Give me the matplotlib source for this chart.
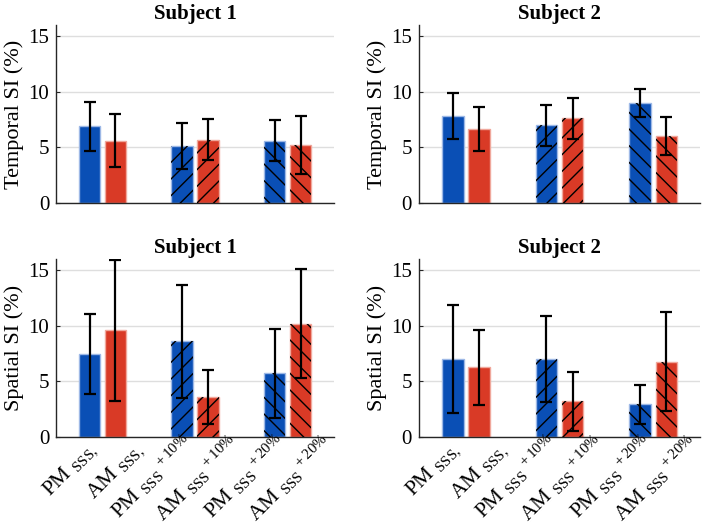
import numpy as np
import matplotlib
matplotlib.use("Agg")
import matplotlib.pyplot as plt
import matplotlib.transforms as mtransforms

plt.rcParams['font.family'] = ['Liberation Serif', 'DejaVu Serif']
plt.rcParams['mathtext.fontset'] = 'custom'
plt.rcParams['mathtext.rm'] = 'Liberation Serif'
plt.rcParams['mathtext.it'] = 'Liberation Serif:italic'
plt.rcParams['mathtext.bf'] = 'Liberation Serif:bold'
plt.rcParams['hatch.linewidth'] = 1.0

# bar labels
labels = ['PM $_{\\rm SSS,}$', 'AM $_{\\rm SSS,}$',
          'PM $_{\\rm SSS}{}^{\\,+10\\%}$', 'AM $_{\\rm SSS}{}^{\\,+10\\%}$',
          'PM $_{\\rm SSS}{}^{\\,+20\\%}$', 'AM $_{\\rm SSS}{}^{\\,+20\\%}$']
titles = ['Subject 1', 'Subject 2', 'Subject 1', 'Subject 2']
ylabels = ['Temporal SI (%)', 'Temporal SI (%)', 'Spatial SI (%)', 'Spatial SI (%)']

# mean values (PM, AM) per condition, for each panel
temporal_s1 = [6.9, 5.6, 5.1, 5.7, 5.6, 5.2]
temporal_s1_err = [2.2, 2.4, 2.05, 1.85, 1.85, 2.6]
temporal_s2 = [7.8, 6.65, 7.0, 7.6, 9.0, 6.05]
temporal_s2_err = [2.05, 1.95, 1.85, 1.85, 1.25, 1.7]
spatial_s1 = [7.45, 9.6, 8.6, 3.6, 5.75, 10.2]
spatial_s1_err = [3.6, 6.35, 5.1, 2.4, 4.0, 4.9]
spatial_s2 = [7.0, 6.25, 7.0, 3.2, 2.95, 6.75]
spatial_s2_err = [4.85, 3.35, 3.85, 2.65, 1.75, 4.45]

panels = [(temporal_s1, temporal_s1_err), (temporal_s2, temporal_s2_err),
          (spatial_s1, spatial_s1_err), (spatial_s2, spatial_s2_err)]

blue = '#0A4FB5'
red = '#D93A26'
blue_edge = '#9DB8E6'
red_edge = '#F0A89C'
colors = [blue, red] * 3
edges = [blue_edge, red_edge] * 3
hatches = ['', '', '//', '//', '\\\\', '\\\\']

groups = np.array([1, 2, 3])
off = 0.14
xpos = np.ravel(np.column_stack([groups - off, groups + off]))
width = 0.23
# x labels are spread evenly under the axes
label_pos = np.linspace(0.9, 3.42, 6)

fig = plt.figure(figsize=(7.03, 5.25), dpi=100)
rects = [[0.080, 0.6133, 0.395, 0.339], [0.596, 0.6133, 0.400, 0.339],
         [0.080, 0.1676, 0.395, 0.339], [0.596, 0.1676, 0.400, 0.339]]

for i, (vals, errs) in enumerate(panels):
    ax = fig.add_axes(rects[i])
    ax.set_axisbelow(True)
    ax.yaxis.grid(True, color='#dedede', linewidth=1.0)
    ax.bar(xpos, vals, width, color=colors, edgecolor=edges, linewidth=1.0, zorder=2)
    # hatch overlay in black
    for x, v, h in zip(xpos, vals, hatches):
        if h:
            ax.bar(x, v, width, color='none', edgecolor='black', hatch=h, linewidth=0, zorder=3)
    ax.errorbar(xpos, vals, yerr=errs, fmt='none', ecolor='black', elinewidth=1.6,
                capsize=4, capthick=1.6, zorder=4)
    ax.set_xlim(0.5, 3.5)
    ax.set_ylim(0, 16)
    ax.set_yticks([0, 5, 10, 15])
    ax.set_xticks([])
    ax.tick_params(axis='y', direction='in', length=3, labelsize=15, colors='#262626', pad=5)
    ax.tick_params(axis='y', labelcolor='black')
    for s in ['top', 'right']:
        ax.spines[s].set_visible(False)
    for s in ['left', 'bottom']:
        ax.spines[s].set_color('#262626')
        ax.spines[s].set_linewidth(1.0)
    ax.set_ylabel(ylabels[i], fontsize=16, labelpad=3)
    ax.set_title(titles[i], fontsize=15, fontweight='bold', pad=4)
    if i >= 2:
        base = mtransforms.blended_transform_factory(ax.transData, ax.transAxes)
        for k, (xl, lab) in enumerate(zip(label_pos, labels)):
            # labels with a superscript are taller, so nudge them up
            dx, dy = (0, -7) if k < 2 else (2, -2)
            tr = base + mtransforms.ScaledTranslation(dx / 72, dy / 72, fig.dpi_scale_trans)
            ax.text(xl, 0, lab, transform=tr, rotation=45, ha='right', va='center',
                    rotation_mode='anchor', fontsize=15.5, clip_on=False)

fig.savefig('out.png', dpi=100)
